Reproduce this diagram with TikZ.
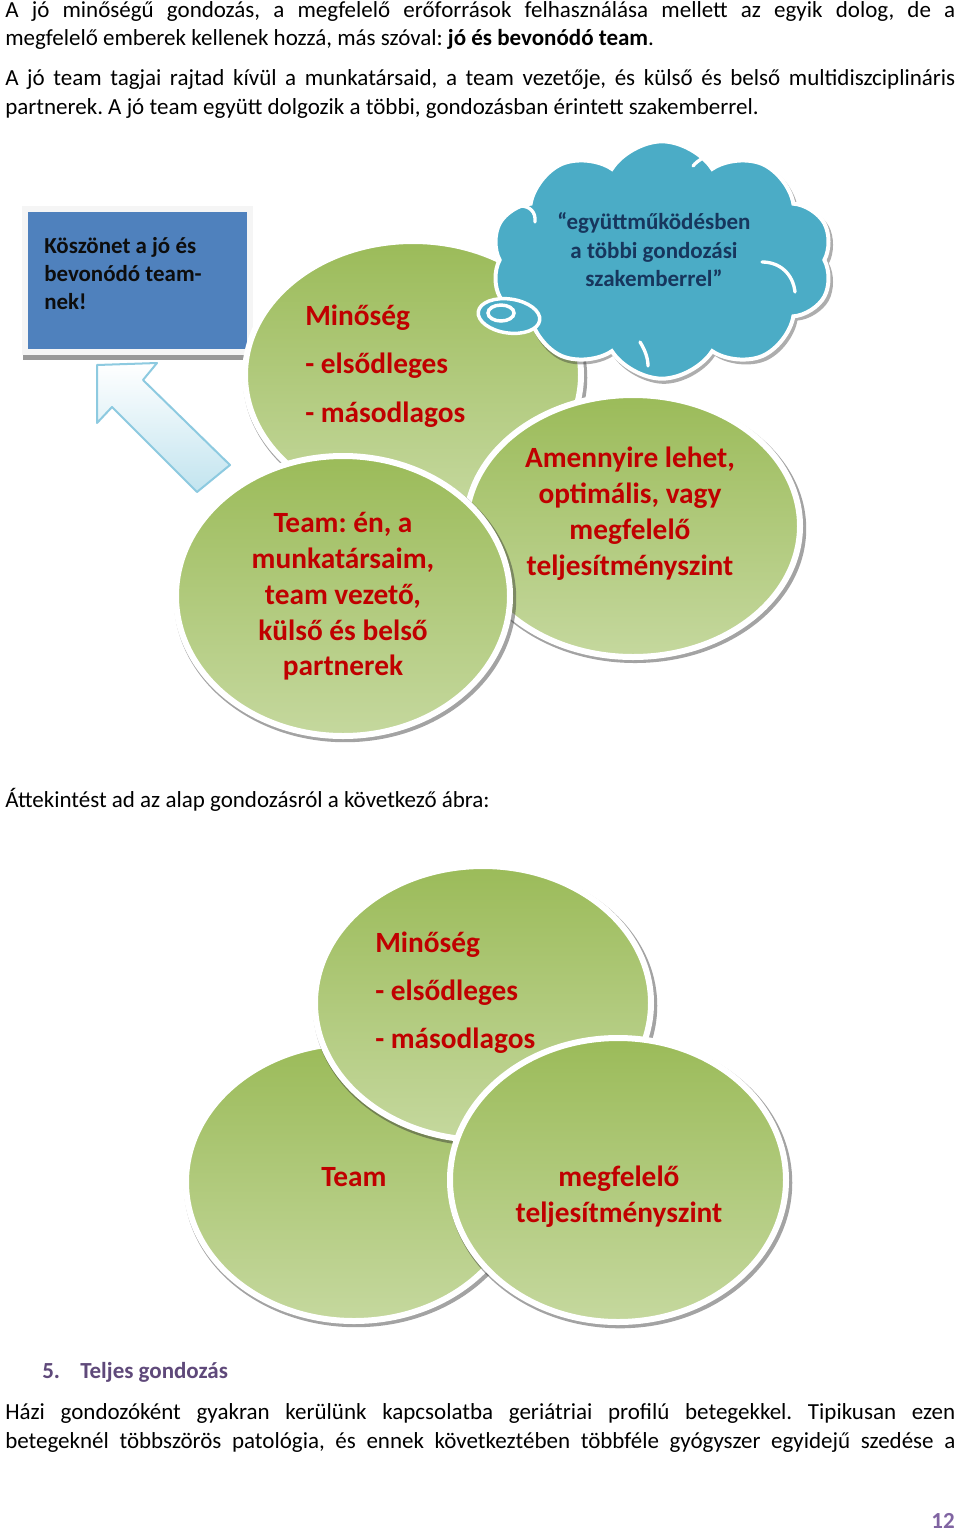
\documentclass[tikz,border=0pt]{standalone}
\usepackage{fontspec}
\setmainfont{Carlito}
\frenchspacing
\usetikzlibrary{shapes.geometric,shapes.symbols,shadows}
\definecolor{gtop}{HTML}{9BBB59}
\definecolor{gbot}{HTML}{C5D89E}
\definecolor{dred}{HTML}{C00000}
\definecolor{boxblue}{HTML}{4F81BD}
\definecolor{cloudblue}{HTML}{4BACC6}
\definecolor{cloudtxt}{HTML}{17365D}
\definecolor{arrowline}{HTML}{8DCAE0}
\definecolor{arrowfill}{HTML}{C2E4EF}
\definecolor{headcol}{HTML}{5F497A}
\definecolor{pagecol}{HTML}{8064A2}
\begin{document}
\begin{tikzpicture}[x=0.75pt,y=-0.75pt,
  body/.style={anchor=base west, inner sep=0pt, font=\fontsize{17.25}{21}\selectfont},
  ball/.style={ellipse, draw=white, line width=4.5pt, top color=gtop, bottom color=gbot,
    drop shadow={shadow xshift=1.5pt, shadow yshift=-2pt, shadow scale=1.025, opacity=0.45, fill=black!80}},
  bl/.style={anchor=base west, inner sep=0pt, text=dred, font=\bfseries\fontsize{22}{27}\selectfont},
  bc/.style={anchor=base, inner sep=0pt, text=dred, font=\bfseries\fontsize{22}{27}\selectfont},
  cl/.style={anchor=base, inner sep=0pt, text=cloudtxt, font=\bfseries\fontsize{17.25}{21}\selectfont},
  bx/.style={anchor=base west, inner sep=0pt, text=black!95, font=\bfseries\fontsize{17.2}{21}\selectfont},
  bluebox/.style={rectangle, fill=boxblue, draw=black!4, line width=4.5pt},
  puff/.style={white, line width=2.5pt, line cap=round}
]
\useasboundingbox (0,0) rectangle (960,1532);
\fill[white] (0,0) rectangle (960,1532);

% ---------- top text ----------
\node[body] (t1) at (5,17) {\makebox[712.5pt][s]{A jó minőségű gondozás, a megfelelő erőforrások felhasználása mellett az egyik dolog, de a}};
\node[body] (t2) at (5,45) {megfelelő emberek kellenek hozzá, más szóval: \textbf{jó és bevonódó team}.};
\node[body] (t3) at (5,85) {\makebox[712.5pt][s]{A jó team tagjai rajtad kívül a munkatársaid, a team vezetője, és külső és belső multidiszciplináris}};
\node[body] (t4) at (5,114) {partnerek. A jó team együtt dolgozik a többi, gondozásban érintett szakemberrel.};

% ---------- blue box ----------
\fill[black!40] (23,349) rectangle (252,360);
\node[bluebox, minimum width=168.75pt, minimum height=107.25pt] (box) at (137.5,280.5) {};
\node[bx] (bx1) at (44,253) {Köszönet a jó és};
\node[bx] (bx2) at (44,281) {bevonódó team-};
\node[bx] (bx3) at (44,309) {nek!};

% ---------- arrow ----------
\path[draw=arrowline, line width=1.5pt, line join=round, top color=white, bottom color=arrowfill]
  (97,365) -- (157,363) -- (143,380) -- (230,465) -- (197,492) -- (112,407) -- (97,423) -- cycle;

% ---------- diagram 1 ----------
\node[ball, minimum width=252pt, minimum height=201pt] (A) at (413,375) {};

% cloud
\node[cloud, cloud puffs=10, cloud puff arc=115, cloud ignores aspect,
      minimum width=256pt, minimum height=178pt, fill=cloudblue, draw=white, line width=3pt,
      drop shadow={shadow xshift=1.5pt, shadow yshift=-2.5pt, shadow scale=1.015, opacity=0.4, fill=black!80}]
      (cloud) at (662,260) {};
\draw[puff] (520,206) .. controls (530,206) and (536,212) .. (535,222);
\draw[puff] (762,262) .. controls (780,262) and (793,274) .. (795,292);
\draw[puff] (640,342) .. controls (645,350) and (648,358) .. (648,366);
\draw[puff] (693,166) .. controls (698,160) and (705,156) .. (712,155);
% swirl
\path[fill=cloudblue, draw=white, line width=2.6pt, rotate around={-8:(509,316)}] (509,316) ellipse [x radius=31, y radius=17];
\path[fill=cloudblue, draw=white, line width=2.6pt] (501,313) ellipse [x radius=13, y radius=8];
\fill[cloudblue] (500,313) ellipse [x radius=5, y radius=3];

\node[cl] (c1) at (654,229) {“együttműködésben};
\node[cl] (c2) at (654,258) {a többi gondozási};
\node[cl] (c3) at (654,286) {szakemberrel”};

\node[ball, minimum width=250.5pt, minimum height=196.5pt] (C) at (633,526) {};
\node[ball, minimum width=250.5pt, minimum height=210pt] (B) at (343,596) {};

\node[bl] (a1) at (305,325) {Minőség};
\node[bl] (a2) at (305,373) {- elsődleges};
\node[bl] (a3) at (305,422) {- másodlagos};

\node[bc] (b1) at (343,532) {Team: én, a};
\node[bc] (b2) at (343,568) {munkatársaim,};
\node[bc] (b3) at (343,604) {team vezető,};
\node[bc] (b4) at (343,640) {külső és belső};
\node[bc] (b5) at (343,675) {partnerek};

\node[bc] (k1) at (630,467) {Amennyire lehet,};
\node[bc] (k2) at (630,503) {optimális, vagy};
\node[bc] (k3) at (630,539) {megfelelő};
\node[bc] (k4) at (630,575) {teljesítményszint};

% ---------- middle text ----------
\node[body] (t5) at (5,807) {Áttekintést ad az alap gondozásról a következő ábra:};

% ---------- diagram 2 ----------
\node[ball, minimum width=252pt, minimum height=208.5pt] (E) at (354,1182) {};
\node[ball, minimum width=252pt, minimum height=205.5pt] (D) at (483,1003) {};
\node[ball, minimum width=252pt, minimum height=213pt] (F) at (618,1180) {};

\node[bl] (d1) at (375,952) {Minőség};
\node[bl] (d2) at (375,1000) {- elsődleges};
\node[bl] (d3) at (375,1048) {- másodlagos};
\node[bc] (e1) at (354,1186) {Team};
\node[bc] (f1) at (619,1186) {megfelelő};
\node[bc] (f2) at (619,1222) {teljesítményszint};

% ---------- bottom text ----------
\node[body, text=headcol, font=\bfseries\fontsize{17.25}{21}\selectfont] (h1) at (42,1378) {5.};
\node[body, text=headcol, font=\bfseries\fontsize{17.25}{21}\selectfont] (h2) at (80,1378) {Teljes gondozás};
\node[body] (t6) at (5,1419) {\makebox[712.5pt][s]{Házi gondozóként gyakran kerülünk kapcsolatba geriátriai profilú betegekkel. Tipikusan ezen}};
\node[body] (t7) at (5,1448) {\makebox[712.5pt][s]{betegeknél többszörös patológia, és ennek következtében többféle gyógyszer egyidejű szedése a}};
\node[anchor=base east, inner sep=0pt, text=pagecol, font=\bfseries\fontsize{17.25}{21}\selectfont] (pg) at (955,1528) {12};
\end{tikzpicture}
\end{document}
